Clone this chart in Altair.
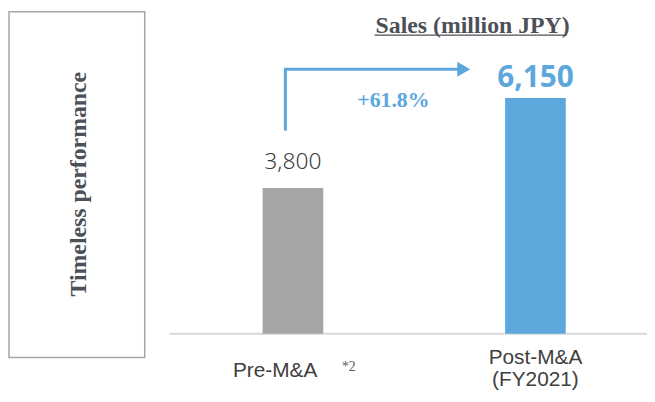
import altair as alt
import pandas as pd

categories = ["Pre-M&A", "Post-M&A"]
sales = [3800, 6150]
value_labels = ["3,800", "6,150"]
axis_labels = ["Pre-M&A", "Post-M&A\n(FY2021)"]
growth_label = "+61.8%"
title_text = "Sales (million JPY)"
side_text = "Timeless performance"
footnote = "*2"

df = pd.DataFrame({"cat": categories, "value": sales,
                   "label": value_labels, "axis_label": axis_labels})
one = pd.DataFrame({"k": [0]})

BLUE = "#5CA8DD"
GRAY_BAR = "#A5A5A5"
TEXT = "#404040"
SLATE = "#4D5157"

W, H = 476, 312

xs = alt.X("cat:N", sort=categories, axis=None,
           scale=alt.Scale(domain=categories, range=[94, 400],
                           paddingInner=0.75, paddingOuter=0))
ys = alt.Y("value:Q", axis=None,
           scale=alt.Scale(domain=[0, 8060], nice=False, zero=True))

base = alt.Chart(df)
pre = base.transform_filter(alt.datum.cat == categories[0])
post = base.transform_filter(alt.datum.cat == categories[1])

bars = base.mark_bar().encode(
    x=xs, y=ys,
    color=alt.Color("cat:N", legend=None,
                    scale=alt.Scale(domain=categories, range=[GRAY_BAR, BLUE])))

pre_val = pre.mark_text(
    font="Noto Sans", fontSize=23, fontWeight=300, color=TEXT,
    baseline="alphabetic", dy=-19).encode(x=xs, y=ys, text="label:N")

post_val = post.mark_text(
    font="Noto Sans", fontSize=30, fontWeight="bold", color=BLUE,
    baseline="alphabetic", dy=-11).encode(x=xs, y=ys, text="label:N")

pre_lab = pre.mark_text(
    font="Liberation Sans", fontSize=21, color=TEXT, baseline="middle",
    dx=-18).encode(x=xs, y=alt.value(350), text="axis_label:N")
post_lab = post.mark_text(
    font="Liberation Sans", fontSize=21, color=TEXT, baseline="middle",
    lineBreak="\n", lineHeight=22).encode(
    x=xs, y=alt.value(337), text="axis_label:N")

foot = alt.Chart(one).mark_text(
    font="Liberation Serif", fontSize=14, color="#595959", baseline="middle",
    text=footnote).encode(x=alt.value(181), y=alt.value(346))

baseline = alt.Chart(one).mark_rule(color="#D9D9D9", strokeWidth=2).encode(
    x=alt.value(0), x2=alt.value(W + 6), y=alt.value(H))

title = alt.Chart(one).mark_text(
    font="Liberation Serif", fontSize=24, fontWeight="bold", color=SLATE,
    baseline="alphabetic", text=title_text).encode(x=alt.value(306), y=alt.value(8))
underline = alt.Chart(one).mark_rule(color=SLATE, strokeWidth=1.3).encode(
    x=alt.value(207), x2=alt.value(401), y=alt.value(10.5))

box = alt.Chart(one).mark_rect(fill="white", stroke="#A6A6A6", strokeWidth=1.5).encode(
    x=alt.value(-162), x2=alt.value(-25), y=alt.value(-13), y2=alt.value(336))
side = alt.Chart(one).mark_text(
    font="Liberation Serif", fontSize=24, fontWeight="bold", color=SLATE,
    angle=270, align="center", baseline="middle", text=side_text).encode(
    x=alt.value(-91), y=alt.value(161))

arrow_v = alt.Chart(one).mark_rule(color=BLUE, strokeWidth=3).encode(
    x=alt.value(117), y=alt.value(44), y2=alt.value(107))
arrow_h = alt.Chart(one).mark_rule(color=BLUE, strokeWidth=3).encode(
    x=alt.value(115.5), x2=alt.value(292), y=alt.value(45))
arrow_head = alt.Chart(one).mark_point(
    shape="M-0.87,-1L0.87,0L-0.87,1Z", filled=True, fill=BLUE,
    opacity=1, size=225).encode(x=alt.value(297), y=alt.value(45))
growth = alt.Chart(one).mark_text(
    font="Liberation Serif", fontSize=22, fontWeight="bold", color=BLUE,
    baseline="middle", text=growth_label).encode(x=alt.value(226), y=alt.value(76))

chart = alt.layer(
    box, side, baseline, bars, pre_val, post_val, pre_lab, post_lab, foot,
    title, underline, arrow_v, arrow_h, arrow_head, growth
).properties(
    width=W, height=H,
    padding={"left": 163, "top": 15, "right": 6, "bottom": 58},
    autosize=alt.AutoSizeParams(type="none"),
    background="white",
).configure_view(stroke=None)

chart.save("out.html", embed_options={"renderer": "svg", "actions": False})
